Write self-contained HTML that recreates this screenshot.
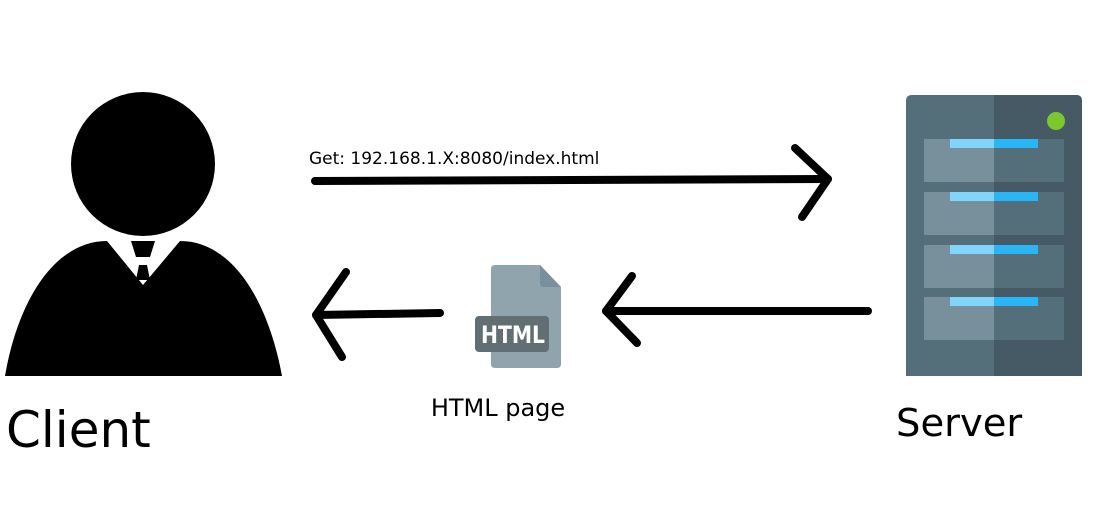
<!DOCTYPE html>
<html><head><meta charset="utf-8"><style>
html,body{margin:0;padding:0;background:#fff;}
svg{display:block}
text{font-family:"DejaVu Sans","Liberation Sans",sans-serif;}
</style></head><body>
<svg width="1100" height="526" viewBox="0 0 1100 526" xmlns="http://www.w3.org/2000/svg">
<rect width="1100" height="526" fill="#fff"/>
<!-- person -->
<circle cx="143" cy="164" r="72" fill="#000"/>
<path d="M5,376 C18,300 55,241 107,241 L180,241 C232,241 268,300 282,376 Z" fill="#000"/>
<path d="M107,241 L180,241 L143,285 Z" fill="#fff"/>
<path d="M131,241 L155,241 L150,257 L136,257 Z" fill="#000"/>
<path d="M139,265 L147,265 L150,280 L136,280 Z" fill="#000"/>
<text x="6" y="447" font-size="50" fill="#000">Client</text>
<!-- arrows -->
<g stroke="#000" stroke-width="8" stroke-linecap="round" stroke-linejoin="round" fill="none">
<path d="M315,181 L828,179"/>
<path d="M795,148 L828,179 L802,217"/>
<path d="M868,311 L606,311"/>
<path d="M632,276 L606,311 L637,343"/>
<path d="M440,313 L316,315"/>
<path d="M346,272 L316,315 L342,357"/>
</g>
<text x="309" y="164" font-size="17" fill="#000">Get: 192.168.1.X:8080/index.html</text>
<!-- html file -->
<path d="M495,265 L540,265 L561,287 L561,364 Q561,368 557,368 L495,368 Q491,368 491,364 L491,269 Q491,265 495,265 Z" fill="#90a4ae"/>
<path d="M540,265 L561,287 L544,287 Q540,287 540,283 Z" fill="#78909c"/>
<rect x="475" y="316" width="74" height="36" rx="4" fill="#616e74"/>
<text x="481" y="343" font-size="24" font-weight="bold" fill="#fff" textLength="64" lengthAdjust="spacingAndGlyphs" font-family="Liberation Sans,sans-serif">HTML</text>
<text x="498" y="416" font-size="24" fill="#000" text-anchor="middle">HTML page</text>
<!-- server -->
<path d="M912,95 L1076,95 Q1082,95 1082,101 L1082,376 L906,376 L906,101 Q906,95 912,95 Z" fill="#546e7a"/>
<path d="M994,95 L1076,95 Q1082,95 1082,101 L1082,376 L994,376 Z" fill="#455a64"/>
<circle cx="1056" cy="121" r="9" fill="#7cc72b"/>
<g>
<rect x="924" y="139" width="70" height="43" fill="#78909c"/><rect x="994" y="139" width="70" height="43" fill="#546e7a"/>
<rect x="924" y="192" width="70" height="43" fill="#78909c"/><rect x="994" y="192" width="70" height="43" fill="#546e7a"/>
<rect x="924" y="245" width="70" height="43" fill="#78909c"/><rect x="994" y="245" width="70" height="43" fill="#546e7a"/>
<rect x="924" y="297" width="70" height="43" fill="#78909c"/><rect x="994" y="297" width="70" height="43" fill="#546e7a"/>
<rect x="950" y="139" width="44" height="9" fill="#81d4fa"/><rect x="994" y="139" width="44" height="9" fill="#29b6f6"/>
<rect x="950" y="192" width="44" height="9" fill="#81d4fa"/><rect x="994" y="192" width="44" height="9" fill="#29b6f6"/>
<rect x="950" y="245" width="44" height="9" fill="#81d4fa"/><rect x="994" y="245" width="44" height="9" fill="#29b6f6"/>
<rect x="950" y="297" width="44" height="9" fill="#81d4fa"/><rect x="994" y="297" width="44" height="9" fill="#29b6f6"/>
</g>
<text x="896" y="436" font-size="38.5" fill="#000">Server</text>
</svg>
</body></html>
